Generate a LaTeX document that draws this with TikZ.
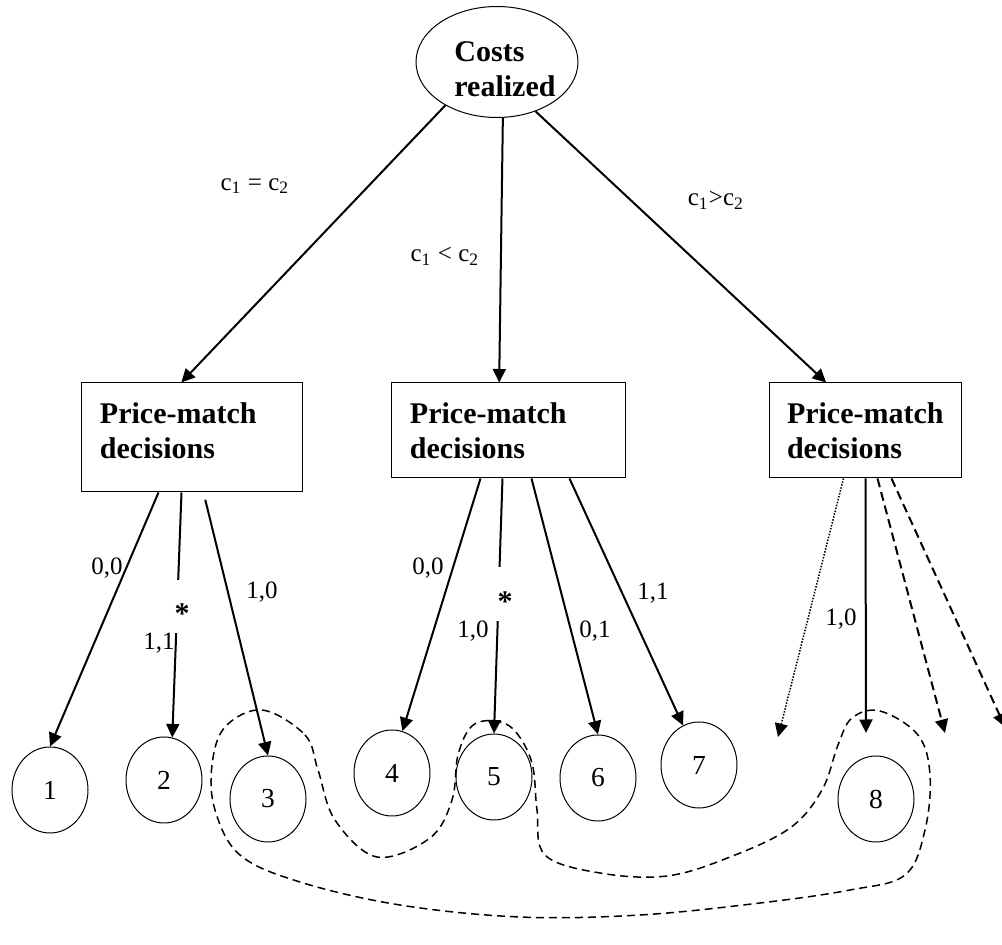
\documentclass[tikz,border=0pt]{standalone}
\usepackage{fontspec}
\setmainfont{Liberation Serif}
\usetikzlibrary{shapes.geometric, arrows.meta, calc}
\tikzstyle{chance} = [ellipse, draw=black, thin, minimum width=64.8pt, minimum height=44.4pt, inner sep=0pt, align=left, font=\fontsize{12}{14}\selectfont\bfseries]
\tikzstyle{decision} = [rectangle, draw=black, thin, minimum height=38pt, inner xsep=7.2pt, inner ysep=0pt, align=left, font=\fontsize{12}{14}\selectfont\bfseries]
\tikzstyle{outcome} = [ellipse, draw=black, thin, minimum width=30.4pt, minimum height=34.4pt, inner sep=0pt, font=\fontsize{11}{13}\selectfont]
\tikzstyle{lbl} = [inner sep=0pt, font=\fontsize{10}{12}\selectfont]
\tikzstyle{star} = [fill=white, inner sep=0pt, minimum width=9.6pt, minimum height=21.4pt, font=\fontsize{12}{12}\selectfont\bfseries]
\tikzstyle{arrow} = [thick,->,>={Triangle[length=5.4pt,width=5.2pt]}]
\tikzstyle{dasharrow} = [arrow, dash pattern=on 3.6pt off 2pt]
\tikzstyle{dotarrow} = [->,>={Triangle[length=5.4pt,width=5.2pt]}, line width=0.6pt, dash pattern=on 0.6pt off 0.6pt]
\begin{document}
\begin{tikzpicture}[x=0.4pt, y=-0.4pt]
	\useasboundingbox (0,0) rectangle (1002,945);

	\node (costs) [chance] at (497,62) {\hspace*{3.2pt}\rule{0pt}{13.6pt}Costs\hspace*{-3.2pt}\\\hspace*{3.2pt}realized\hspace*{-3.2pt}};
	\node (pm1) [decision, text width=73.6pt, minimum height=43.6pt] at (192,437.5) {\mbox{Price-match}\\decisions\rule[-5.6pt]{0pt}{5.6pt}};
	\node (pm2) [decision, text width=78.8pt] at (508.5,430.5) {\mbox{Price-match}\\decisions};
	\node (pm3) [decision, text width=62.4pt] at (865,430.5) {\mbox{Price-match}\\decisions};

	\node (o1) [outcome] at (50,790) {1};
	\node (o2) [outcome] at (164,780) {2};
	\node (o3) [outcome] at (268,799) {3};
	\node (o4) [outcome] at (392,773) {4};
	\node (o5) [outcome] at (494,777) {5};
	\node (o6) [outcome] at (598,778) {6};
	\node (o7) [outcome] at (699,765) {7};
	\node (o8) [outcome] at (876,799) {8};

	\coordinate (end1) at (778,737);
	\coordinate (end2) at (866,733);
	\coordinate (end3) at (945,733);
	\coordinate (end4) at (1005,727);

	\draw [arrow] (costs.220) -- (pm1.101);
	\draw [arrow] (costs.276) -- (pm2.101);
	\draw [arrow] (costs.308) -- (pm3.129);

	\draw [arrow] ($(pm1.south west)+(77,0)$) -- (o1.north);
	\draw [arrow] ($(pm1.south west)+(100,0)$) -- (o2.79);
	\draw [arrow, shorten <=3pt] ($(pm1.south west)+(122,0)$) -- (o3.north);

	\draw [arrow] ($(pm2.south west)+(89,0)$) -- (o4.76);
	\draw [arrow] ($(pm2.south west)+(111,0)$) -- (o5.north);
	\draw [arrow] ($(pm2.south west)+(140,0)$) -- (o6.north);
	\draw [arrow] ($(pm2.south west)+(178,0)$) -- (o7.112);

	\draw [dotarrow] ($(pm3.south west)+(75,0)$) -- (end1);
	\draw [arrow] ($(pm3.south west)+(97,0)$) -- (end2);
	\draw [dasharrow] ($(pm3.south west)+(109,0)$) -- (end3);
	\draw [dasharrow] ($(pm3.south west)+(123,0)$) -- (end4);

	\node (star1) [star] at (182,606.5) {\raisebox{-7pt}[0pt][0pt]{*}};
	\node (star2) [star] at (505,594) {\raisebox{-7pt}[0pt][0pt]{*}};

	\node (lbleq) [lbl] at (255,186) {c\textsubscript{1} = c\textsubscript{2}};
	\node (lbllt) [lbl] at (445,256) {c\textsubscript{1} < c\textsubscript{2}};
	\node (lblgt) [lbl] at (716,200) {c\textsubscript{1}>c\textsubscript{2}};

	\node (l1) [lbl] at (107,568) {0,0};
	\node (l2) [lbl] at (159,643) {1,1};
	\node (l3) [lbl] at (262,592) {1,0};
	\node (l4) [lbl] at (428,568) {0,0};
	\node (l5) [lbl] at (473,631) {1,0};
	\node (l6) [lbl] at (595,631) {0,1};
	\node (l7) [lbl] at (653,593) {1,1};
	\node (l8) [lbl] at (841,619) {1,0};

	\draw [dash pattern=on 3.2pt off 2pt, line width=0.6pt] plot [smooth cycle, tension=0.6] coordinates {(262,710) (305,735) (318,770) (335,820) (377,857) (430,838) (452,800) (458,755) (472,726) (495,721) (515,731) (532,763) (537,810) (545,855) (600,873) (667,876) (730,857) (790,828) (822,790) (838,745) (852,718) (880,711) (918,735) (930,775) (925,830) (905,875) (850,890) (760,903) (640,915) (520,917) (400,905) (300,882) (240,855) (215,810) (212,765) (225,727)};

\end{tikzpicture}
\end{document}
